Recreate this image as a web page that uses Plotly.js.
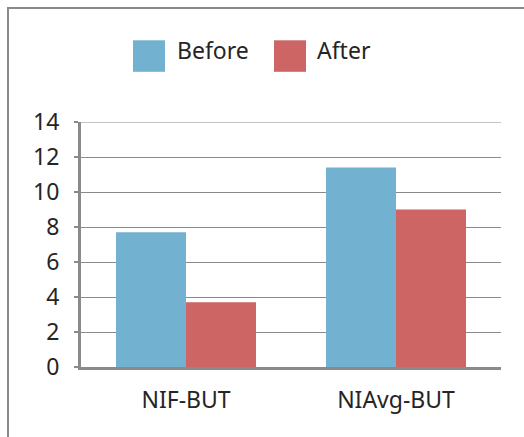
<!DOCTYPE html>
<html>
<head>
<meta charset="utf-8">
<script src="https://cdn.plot.ly/plotly-3.0.1.min.js"></script>
<style>
html,body{margin:0;padding:0;background:#fff;}
#wrap{position:relative;width:524px;height:437px;overflow:hidden;}
#chart{position:absolute;left:0;top:0;width:524px;height:437px;}
#frame{position:absolute;left:7px;top:7px;width:700px;height:700px;border:2px solid #8a8a8a;box-sizing:border-box;pointer-events:none;}
</style>
</head>
<body>
<div id="wrap"><div id="chart"></div><div id="frame"></div></div>
<script>
const categories = ["NIF-BUT", "NIAvg-BUT"];
const seriesNames = ["Before", "After"];
const beforeValues = [7.7, 11.4];
const afterValues = [3.7, 9.0];
const yTicks = [0, 2, 4, 6, 8, 10, 12, 14];

const colors = ["#72b1d0", "#cc6563"];
const FONT = "Noto Sans, DejaVu Sans, sans-serif";
const TXT = "#252525";

// plot area geometry (pixels)
const L = 81, R = 23, T = 121.7, B = 70.3, W = 524, H = 437;
const pw = W - L - R, ph = H - T - B;
const px = x => (x - L) / pw;
const py = y => (H - B - y) / ph;

const traces = [beforeValues, afterValues].map((vals, i) => ({
  type: "bar",
  x: categories,
  y: vals,
  name: seriesNames[i],
  marker: {color: colors[i], line: {width: 0}},
  hoverinfo: "none"
}));

// custom legend
const legendItems = [{box: 133, text: 176}, {box: 274, text: 316}];
const shapes = legendItems.map((it, i) => ({
  type: "rect", xref: "paper", yref: "paper",
  x0: px(it.box), x1: px(it.box + 32), y0: py(71.5), y1: py(40),
  fillcolor: colors[i], line: {width: 0}
}));
// top gridline (Plotly drops the one on the range edge)
const yMax = yTicks[yTicks.length - 1];
shapes.push({
  type: "line", xref: "paper", yref: "y", x0: 0, x1: 1, y0: yMax, y1: yMax,
  line: {color: "#8a8a8a", width: 1}, layer: "below"
});
const annotations = legendItems.map((it, i) => ({
  xref: "paper", yref: "paper", x: px(it.text - 1), y: py(50),
  xanchor: "left", yanchor: "middle", showarrow: false,
  text: seriesNames[i], font: {family: FONT, size: 23, color: TXT}
}));

const layout = {
  width: W, height: H,
  margin: {l: L, r: R, t: T, b: B, pad: 0},
  paper_bgcolor: "rgba(0,0,0,0)",
  plot_bgcolor: "rgba(0,0,0,0)",
  showlegend: false,
  barmode: "group",
  bargap: 1/3,
  bargroupgap: 0,
  font: {family: FONT, size: 23, color: TXT},
  xaxis: {
    type: "category",
    showline: true, linecolor: "#8a8a8a", linewidth: 3,
    ticks: "", showgrid: false, zeroline: false,
    tickfont: {family: FONT, size: 23, color: TXT},
    ticklabelstandoff: 10
  },
  yaxis: {
    range: [0, 14], tickvals: yTicks, ticktext: yTicks.map(String),
    showline: true, linecolor: "#8a8a8a", linewidth: 3,
    ticks: "outside", ticklen: 4, tickwidth: 2, tickcolor: "#8a8a8a",
    showgrid: true, gridcolor: "#8a8a8a", gridwidth: 1,
    zeroline: false,
    tickfont: {family: FONT, size: 23, color: TXT},
    ticklabelstandoff: 10
  },
  shapes: shapes,
  annotations: annotations
};

Plotly.newPlot("chart", traces, layout, {staticPlot: true, displayModeBar: false});
</script>
</body>
</html>
